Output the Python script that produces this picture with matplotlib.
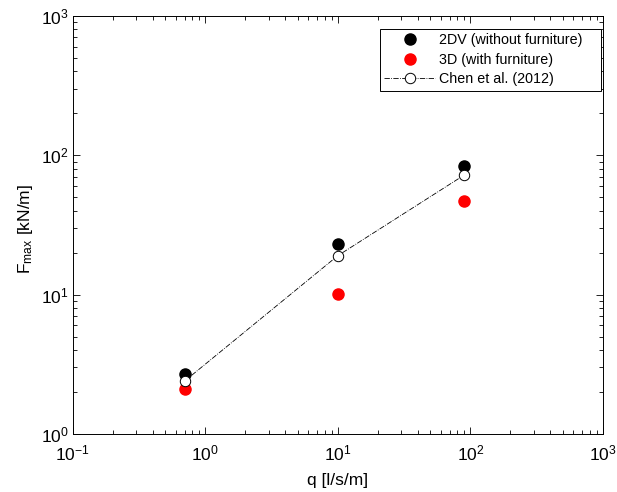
import numpy as np
import matplotlib.pyplot as plt
from matplotlib.ticker import LogLocator, NullFormatter

plt.rcParams['font.family'] = ['Liberation Sans', 'DejaVu Sans']
plt.rcParams['mathtext.fontset'] = 'custom'
plt.rcParams['mathtext.rm'] = 'Liberation Sans'
plt.rcParams['mathtext.it'] = 'Liberation Sans'
plt.rcParams['mathtext.default'] = 'regular'

# discharge per unit width [l/s/m]
q = [0.7, 10, 90]
# maximum force [kN/m]
f_2dv = [2.7, 23, 84]
f_3d = [2.1, 10.1, 47]
f_chen = [2.4, 19, 72]

fig = plt.figure(figsize=(6.17, 4.92), dpi=100)
ax = fig.add_axes([0.118, 0.118, 0.859, 0.850])

ax.plot(q, f_2dv, 'o', color='black', markersize=8, label='2DV (without furniture)')
ax.plot(q, f_3d, 'o', color='red', markersize=8, label='3D (with furniture)')
ax.plot(q, f_chen, '-.', color='black', linewidth=0.6, marker='o', markersize=7.5,
        markerfacecolor='white', markeredgecolor='black', markeredgewidth=0.7,
        label='Chen et al. (2012)')

ax.set_xscale('log')
ax.set_yscale('log')
ax.set_xlim(0.1, 1000)
ax.set_ylim(1, 1000)

for axis in (ax.xaxis, ax.yaxis):
    axis.set_major_locator(LogLocator(base=10, numticks=10))
    axis.set_minor_locator(LogLocator(base=10, subs=np.arange(2, 10), numticks=10))
    axis.set_minor_formatter(NullFormatter())

ax.tick_params(which='both', direction='in', top=True, right=True, labelsize=12.5, width=0.6)
ax.tick_params(which='major', length=5)
ax.tick_params(which='minor', length=3)
ax.tick_params(axis='x', pad=7)
ax.tick_params(axis='y', pad=3)
for s in ax.spines.values():
    s.set_linewidth(0.7)

ax.set_xlabel('q [l/s/m]', fontsize=12.5)
ax.set_ylabel('F$_{max}$ [kN/m]', fontsize=12.5)
ax.xaxis.set_label_coords(0.5, -0.093)
ax.yaxis.set_label_coords(-0.072, 0.49)

leg = ax.legend(loc='upper left', bbox_to_anchor=(0.579, 0.5, 0.417, 0.469), mode='expand',
                fontsize=10.3, fancybox=False, edgecolor='black', framealpha=1,
                borderaxespad=0, borderpad=0.3, handlelength=3.6, handletextpad=0.25,
                labelspacing=0.4)
leg.get_frame().set_linewidth(0.7)

fig.savefig('out.png', dpi=100)
